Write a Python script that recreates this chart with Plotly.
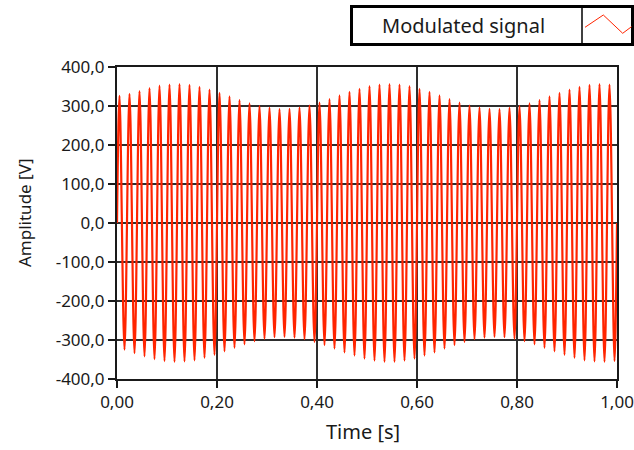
import numpy as np
import plotly.graph_objects as go

# ---- data ----
carrier_period = 0.02  # s (50 Hz carrier)
# positive peak amplitudes, one per carrier cycle (V)
pos_peaks = [326, 331, 338, 346, 352, 355, 356, 354, 349, 342,
             334, 325, 315, 307, 300, 295, 292, 293, 296, 301,
             309, 318, 327, 336, 344, 351, 355, 356, 355, 351,
             344, 336, 327, 318, 309, 301, 296, 293, 292, 295,
             300, 307, 315, 325, 334, 342, 349, 354, 356, 355]
# negative peak amplitudes (V)
neg_peaks = [-325, -334, -342, -349, -354, -356, -355, -352, -346, -338,
             -329, -320, -311, -303, -297, -293, -292, -294, -298, -305,
             -313, -322, -332, -340, -348, -353, -356, -356, -353, -348,
             -340, -332, -322, -313, -305, -298, -294, -292, -293, -297,
             -303, -311, -320, -329, -338, -346, -352, -355, -356, -354]

x_tick_vals = [0.0, 0.2, 0.4, 0.6, 0.8, 1.0]
x_tick_text = ["0,00", "0,20", "0,40", "0,60", "0,80", "1,00"]
y_tick_vals = [-400, -300, -200, -100, 0, 100, 200, 300, 400]
y_tick_text = ["-400,0", "-300,0", "-200,0", "-100,0", "0,0", "100,0", "200,0", "300,0", "400,0"]

# ---- build the polyline through the peaks ----
t = [0.0]
v = [0.0]
for k, (p, n) in enumerate(zip(pos_peaks, neg_peaks)):
    t += [k * carrier_period + carrier_period / 4, k * carrier_period + 3 * carrier_period / 4]
    v += [p, n]
t.append(1.0)
v.append(0.0)

FONT = "Noto Sans"
TXT = "#1a1a1a"
L, R, T, B = 117, 17, 67, 71
W, H = 634, 450
PW, PH = W - L - R, H - T - B

def px(x):
    return (x - L) / PW

def py(y):
    return (H - B - y) / PH

fig = go.Figure()
fig.add_trace(go.Scatter(
    x=t, y=v, mode="lines", name="Modulated signal",
    line=dict(color="#ff2400", width=2.2, shape="spline", smoothing=1),
    showlegend=False, hoverinfo="skip",
))

axis_common = dict(
    showline=True, linecolor="#1a1a1a", linewidth=2, mirror=True,
    showgrid=True, gridcolor="#2e2e2e", gridwidth=2,
    zeroline=False, ticks="outside", ticklen=7, tickwidth=1.5, tickcolor="#1a1a1a",
    tickfont=dict(family=FONT, size=17, color=TXT), automargin=False,
)

fig.update_layout(
    width=W, height=H,
    margin=dict(l=L, r=R, t=T, b=B, autoexpand=False),
    paper_bgcolor="white", plot_bgcolor="white",
    xaxis=dict(range=[0, 1], tickvals=x_tick_vals, ticktext=x_tick_text, **axis_common),
    yaxis=dict(range=[-400, 400], tickvals=y_tick_vals, ticktext=y_tick_text, **axis_common),
    showlegend=False,
)

# axis titles
fig.add_annotation(text="Time [s]", xref="paper", yref="paper", x=px(363), y=py(431),
                   showarrow=False, font=dict(family=FONT, size=20, color=TXT),
                   xanchor="center", yanchor="middle")
fig.add_annotation(text="Amplitude [V]", xref="paper", yref="paper", x=px(24), y=py(213),
                   showarrow=False, textangle=-90, font=dict(family=FONT, size=17, color=TXT),
                   xanchor="center", yanchor="middle")

# LabVIEW-style legend box
fig.add_shape(type="rect", xref="paper", yref="paper",
              x0=px(351.5), x1=px(632.5), y0=py(44.5), y1=py(6.5),
              line=dict(color="black", width=3), fillcolor="white", layer="above")
fig.add_shape(type="line", xref="paper", yref="paper",
              x0=px(582), x1=px(582), y0=py(43), y1=py(8),
              line=dict(color="black", width=1.5), layer="above")
icon = [(585, 27.3), (603.3, 15), (622.7, 33.3), (631.5, 26.7)]
path = "M " + " L ".join(f"{px(a):.5f},{py(b):.5f}" for a, b in icon)
fig.add_shape(type="path", xref="paper", yref="paper", path=path,
              line=dict(color="#ff2400", width=1), layer="above")
fig.add_annotation(text="Modulated signal", xref="paper", yref="paper", x=px(463), y=py(25),
                   showarrow=False, font=dict(family=FONT, size=20, color=TXT),
                   xanchor="center", yanchor="middle")

fig.write_html(
    "out.html",
    config={"displayModeBar": False},
    post_script=("document.documentElement.style.overflow='hidden';"
                 "document.body.style.margin='0';document.body.style.overflow='hidden';"),
)
